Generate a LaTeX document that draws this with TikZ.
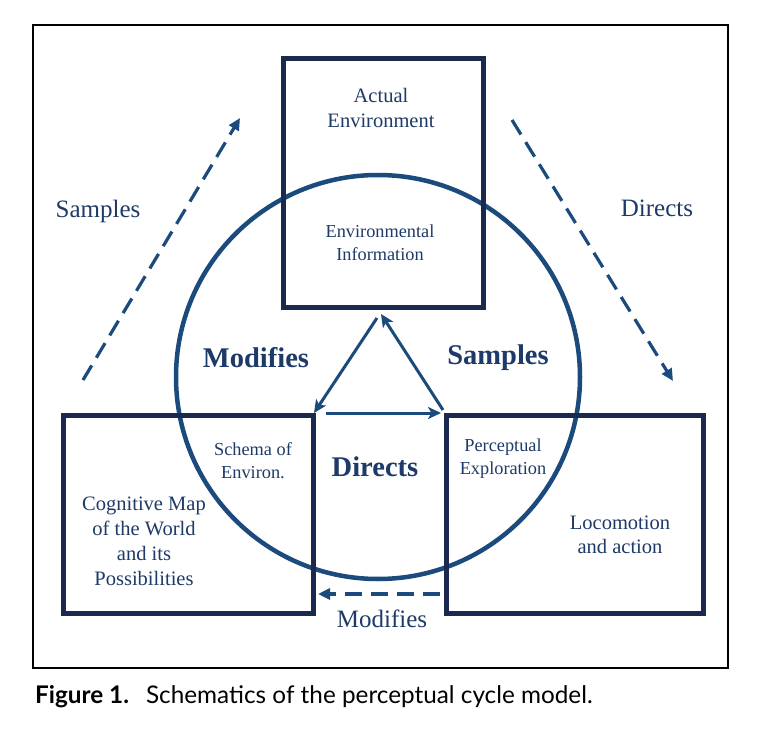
\documentclass[tikz,border=0pt]{standalone}
\usepackage{fontspec}
\setmainfont{Liberation Serif}
\newfontfamily\capfont{Lato}
\usetikzlibrary{arrows.meta}
\definecolor{boxcol}{HTML}{1A2A4E}
\definecolor{circcol}{HTML}{1B4A7C}
\definecolor{txtcol}{HTML}{1E3A68}
\begin{document}
\begin{tikzpicture}[x=1pt,y=-1pt,
  box/.style={draw=boxcol, line width=5pt, rectangle, inner sep=0pt},
  lbl/.style={text=txtcol, align=center, inner sep=0pt},
  side/.style={lbl, font=\fontsize{25}{28}\selectfont},
  bigb/.style={lbl, font=\bfseries\fontsize{28.5}{32}\selectfont},
  maintxt/.style={lbl, font=\fontsize{20.5}{24.5}\selectfont},
  innertxt/.style={lbl, font=\fontsize{18.3}{23}\selectfont},
  solidarr/.style={draw=circcol, line width=3pt, -{Stealth[length=13pt,width=12pt,inset=3.5pt]}},
  dasharr/.style={draw=circcol, line width=3.2pt, dash pattern=on 17pt off 9pt, -{Triangle[length=12pt,width=11pt]}}
]
\useasboundingbox (0,0) rectangle (782,746);
\fill[white] (0,0) rectangle (782,746);
\draw[black, line width=2pt] (33,25) rectangle (728,668);

% circle
\node[draw=circcol, line width=4.5pt, circle, minimum size=404pt, inner sep=0pt] (cyc) at (378,377) {};

% boxes
\node[box, minimum width=200pt, minimum height=249pt] (topbox) at (383,183) {};
\node[box, minimum width=250pt, minimum height=198pt] (leftbox) at (188,514.5) {};
\node[box, minimum width=257pt, minimum height=198pt] (rightbox) at (574.5,514.5) {};

% texts
\node[maintxt] (actual) at (381,108) {Actual\\Environment};
\node[innertxt] (envinfo) at (380,242.5) {Environmental\\Information};
\node[innertxt] (schema) at (253,460.5) {Schema of\\Environ.};
\node[innertxt] (percept) at (503,458.5) {Perceptual\\Exploration};
\node[maintxt, font=\fontsize{20.5}{25}\selectfont] (cogmap) at (144,541.5) {Cognitive Map\\of the World\\and its\\Possibilities};
\node[maintxt] (locom) at (620,535) {Locomotion\\and action};

\node[side] (sampL) at (98,211) {Samples};
\node[side] (dirR) at (657,208) {Directs};
\node[side] (modB) at (382,619) {Modifies};
\node[bigb] (modC) at (256,358) {Modifies};
\node[bigb] (sampC) at (498,358) {Samples};
\node[bigb] (dirC) at (375,467) {Directs};

% triangle arrows
\coordinate (tTop) at (381,314);
\coordinate (tTopL) at (377,318);
\coordinate (tL) at (314,413);
\coordinate (tR) at (443,410);
\coordinate (hL) at (326,413);
\coordinate (hR) at (441,413);
\draw[solidarr] (tR) -- (tTop);
\draw[solidarr] (tTopL) -- (tL);
\draw[solidarr] (hL) -- (hR);

% dashed arrows
\coordinate (dL1) at (83,380);
\coordinate (dL2) at (240,118);
\coordinate (dR1) at (512,120);
\coordinate (dR2) at (673,381);
\coordinate (dB1) at (440,594);
\coordinate (dB2) at (318,594);
\draw[dasharr] (dL1) -- (dL2);
\draw[dasharr] (dR1) -- (dR2);
\draw[dasharr] (dB1) -- (dB2);

% caption
\node[anchor=west, inner sep=0pt, font=\capfont\fontsize{24.3}{27}\selectfont] (cap) at (35,697) {\textbf{Figure 1.}\hspace{0.7em}Schematics of the perceptual cycle model.};
\end{tikzpicture}
\end{document}
